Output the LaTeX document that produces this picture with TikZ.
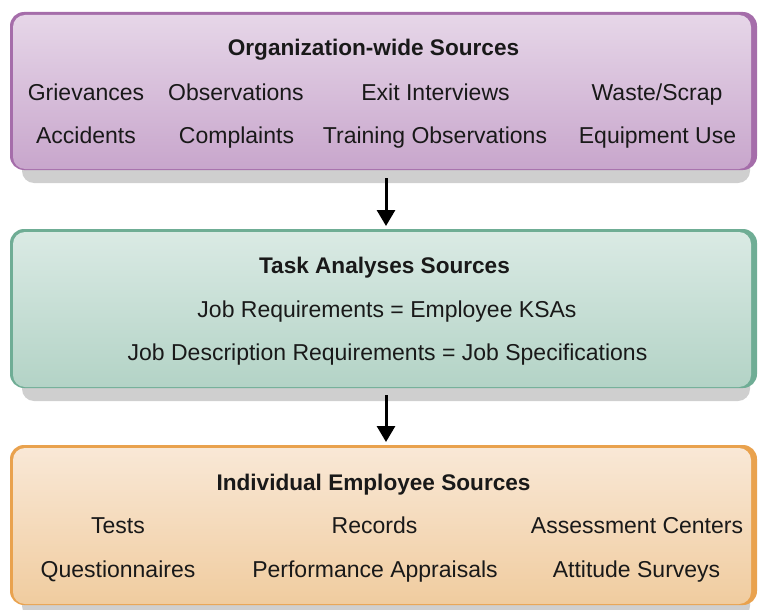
\documentclass[tikz,border=0pt]{standalone}
\usepackage{fontspec}
\setmainfont{Liberation Sans}
\usetikzlibrary{arrows.meta}

\definecolor{shadowgray}{HTML}{CFCFCF}
\definecolor{orgrim}{HTML}{A56DAA}
\definecolor{orgtop}{HTML}{E6D6E8}
\definecolor{orgbot}{HTML}{C8A6CC}
\definecolor{taskrim}{HTML}{6FAD95}
\definecolor{tasktop}{HTML}{DAEAE4}
\definecolor{taskbot}{HTML}{B3D3C6}
\definecolor{indrim}{HTML}{E9A24E}
\definecolor{indtop}{HTML}{F9E8D6}
\definecolor{indbot}{HTML}{F0CC9F}

% one source box: top, bottom, colour prefix
\newcommand*{\srcbox}[3]{
  \fill[shadowgray,rounded corners=12pt] (22,#1+10) rectangle (750,#2+13);
  \fill[#3rim,rounded corners=14pt] (10,#1) rectangle (757,#2);
  \shade[rounded corners=12pt,top color=#3top,middle color=#3top,bottom color=#3bot]
    (13,#1+3) rectangle (751,#2-1);
}

\begin{document}
\begin{tikzpicture}
[
	x=1pt,y=-1pt,
	lbl/.style={font=\fontsize{23}{27}\selectfont,inner sep=0pt,anchor=base,text=black!90},
	hdr/.style={font=\fontsize{22.6}{27}\selectfont\bfseries,inner sep=0pt,anchor=base,text=black!90},
	flow/.style={-{Triangle[width=18pt,length=16pt]},line width=3pt}
]
	\useasboundingbox (0,0) rectangle (758,610);

	% boxes
	\srcbox{12}{170}{org}
	\srcbox{229}{388}{task}
	\srcbox{445}{605}{ind}

	% organization-wide
	\node[hdr] (orghdr) at (373.5,56) {Organization-wide Sources};
	\node[lbl] (griev) at (86,100) {Grievances};
	\node[lbl] (obs) at (236,100) {Observations};
	\node[lbl] (exit) at (435.5,100) {Exit Interviews};
	\node[lbl] (waste) at (657,100) {Waste/Scrap};
	\node[lbl] (acc) at (86,143) {Accidents};
	\node[lbl] (compl) at (236.5,143) {Complaints};
	\node[lbl] (train) at (435,143) {Training Observations};
	\node[lbl] (equip) at (657.5,143) {Equipment Use};

	% task analyses
	\node[hdr] (taskhdr) at (384.5,273) {Task Analyses Sources};
	\node[lbl] (jobreq) at (387,317) {Job Requirements = Employee KSAs};
	\node[lbl] (jobdesc) at (387.5,360) {Job Description Requirements = Job Specifications};

	% individual employee
	\node[hdr] (indhdr) at (373.5,490) {Individual Employee Sources};
	\node[lbl] (tests) at (118,533) {Tests};
	\node[lbl] (rec) at (374.5,533) {Records};
	\node[lbl] (assess) at (637,533) {Assessment Centers};
	\node[lbl] (quest) at (118,577) {Questionnaires};
	\node[lbl] (perf) at (375,577) {Performance Appraisals};
	\node[lbl] (att) at (636.5,577) {Attitude Surveys};

	% arrows
	\coordinate (orgend) at (386,178);
	\coordinate (taskstart) at (386,226);
	\coordinate (taskend) at (386,395);
	\coordinate (indstart) at (386,442);
	\draw[flow] (orgend) -- (taskstart);
	\draw[flow] (taskend) -- (indstart);

\end{tikzpicture}
\end{document}
